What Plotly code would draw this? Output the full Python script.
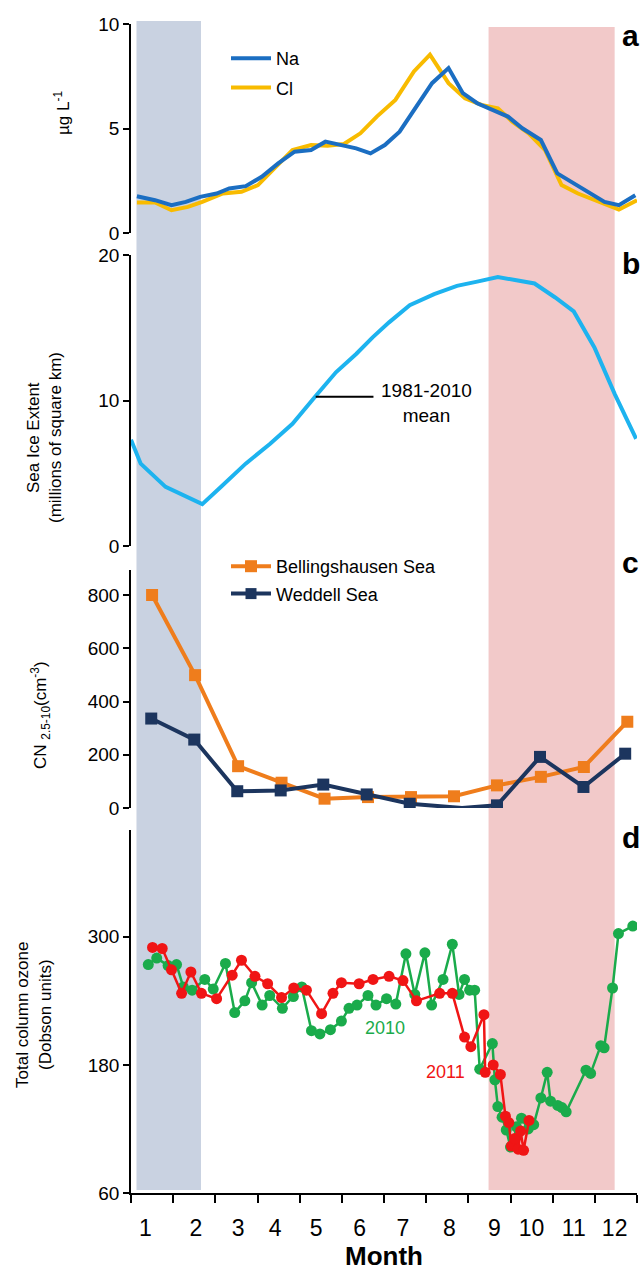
import plotly.graph_objects as go

# ---------------- data ----------------
# x positions are expressed on the month axis (0..12 tick intervals)
month_labels = ["1", "2", "3", "4", "5", "6", "7", "8", "9", "10", "11", "12"]
month_label_pos = [0.34, 1.54, 2.54, 3.42, 4.39, 5.42, 6.45, 7.55, 8.62, 9.50, 10.50, 11.47]
month_ticks = list(range(13))

# (a) aerosol Na / Cl, ug per litre
na_x = [0.14, 0.57, 0.96, 1.30, 1.64, 2.03, 2.33, 2.72, 3.10, 3.49, 3.88, 4.27, 4.61, 5.00,
        5.34, 5.68, 6.02, 6.37, 6.71, 7.14, 7.53, 7.87, 8.21, 8.55, 8.94, 9.28, 9.72, 10.11,
        10.50, 10.89, 11.23, 11.57, 11.96]
na_y = [1.76, 1.57, 1.33, 1.49, 1.73, 1.89, 2.13, 2.24, 2.69, 3.33, 3.89, 3.97, 4.37, 4.21,
        4.05, 3.81, 4.21, 4.85, 5.89, 7.17, 7.89, 6.69, 6.21, 5.89, 5.57, 5.01, 4.45, 2.85,
        2.37, 1.89, 1.49, 1.33, 1.81]
cl_x = [0.14, 0.57, 0.96, 1.35, 1.69, 2.18, 2.62, 3.01, 3.40, 3.83, 4.27, 4.66, 5.05, 5.44,
        5.83, 6.27, 6.71, 7.09, 7.53, 7.92, 8.31, 8.70, 9.04, 9.43, 9.82, 10.21, 10.60, 10.99,
        11.28, 11.57, 12.0]
cl_y = [1.46, 1.46, 1.09, 1.25, 1.49, 1.89, 1.97, 2.29, 3.09, 3.97, 4.21, 4.18, 4.26, 4.77,
        5.57, 6.37, 7.73, 8.53, 7.17, 6.45, 6.13, 5.97, 5.33, 4.77, 3.97, 2.29, 1.89, 1.57,
        1.33, 1.12, 1.57]

# (b) sea ice extent, 1981-2010 mean (millions of km2)
ice_x = [0.0, 0.23, 0.82, 1.26, 1.69, 2.13, 2.72, 3.30, 3.83, 4.37, 4.86, 5.34, 5.73, 6.12,
         6.61, 7.19, 7.73, 8.21, 8.70, 9.14, 9.57, 10.06, 10.50, 10.99, 11.47, 11.98]
ice_y = [7.3, 5.66, 4.06, 3.49, 2.88, 4.06, 5.66, 7.03, 8.40, 10.27, 11.94, 13.20, 14.34, 15.37,
         16.55, 17.31, 17.88, 18.17, 18.49, 18.26, 18.04, 17.08, 16.12, 13.65, 10.46, 7.37]

# (c) CN 2.5-10 concentrations (cm-3)
bell_x = [0.50, 1.52, 2.54, 3.57, 4.59, 5.62, 6.64, 7.66, 8.68, 9.72, 10.74, 11.77]
bell_y = [800, 499, 157, 95, 35, 41, 41, 44, 85, 117, 154, 324]
wed_x = [0.48, 1.50, 2.52, 3.55, 4.56, 5.59, 6.61, 7.85, 8.68, 9.70, 10.73, 11.72]
wed_y = [336, 257, 63, 66, 88, 51, 16, 0, 10, 192, 79, 204]
wed_has_marker = [1, 1, 1, 1, 1, 1, 1, 0, 1, 1, 1, 1]

# (d) total column ozone (Dobson units)
o3_2010_x = [0.41, 0.61, 0.88, 1.08, 1.24, 1.45, 1.75, 1.95, 2.24, 2.46, 2.70, 2.86, 3.11, 3.29,
             3.59, 3.85, 4.05, 4.28, 4.48, 4.73, 4.99, 5.17, 5.36, 5.62, 5.81, 6.06, 6.28, 6.52,
             6.73, 6.97, 7.13, 7.40, 7.62, 7.78, 7.91, 8.03, 8.15, 8.27, 8.57, 8.63, 8.70, 8.80,
             8.90, 9.00, 9.08, 9.14, 9.26, 9.42, 9.55, 9.72, 9.87, 9.95, 10.12, 10.22, 10.32,
             10.79, 10.90, 11.14, 11.22, 11.42, 11.56, 11.90]
o3_2010_y = [274, 280, 273, 274, 253, 250, 260, 251, 275, 229, 240, 257, 236, 245,
             233, 244, 253, 212, 209, 213, 221, 233, 236, 245, 236, 242, 237, 284,
             246, 285, 236, 260, 293, 246, 260, 250, 250, 176, 200, 166, 141, 131,
             119, 103, 110, 122, 130, 120, 124, 149, 173, 146, 142, 140, 136,
             175, 172, 198, 196, 252, 303, 310]
o3_2011_x = [0.51, 0.74, 0.96, 1.20, 1.42, 1.67, 2.03, 2.40, 2.62, 2.94, 3.24, 3.57, 3.86, 4.16,
             4.52, 4.79, 4.99, 5.41, 5.74, 6.12, 6.45, 6.77, 7.32, 7.62, 7.91, 8.06, 8.37, 8.40,
             8.59, 8.76, 8.88, 8.96, 9.02, 9.10, 9.18, 9.24, 9.31, 9.44]
o3_2011_y = [290, 289, 269, 247, 267, 247, 242, 264, 278, 263, 256, 243, 252, 250,
             228, 247, 257, 256, 260, 263, 259, 240, 247, 247, 206, 197, 227, 173,
             180, 171, 132, 126, 104, 111, 101, 118, 100, 128]

# seasonal bands on the month axis
band_blue = (0.13, 1.66)
band_pink = (8.48, 11.47)

# ---------------- styling ----------------
FONT = "Liberation Sans, Arial, sans-serif"
C_NA, C_CL = "#1b6ec2", "#f8bb00"
C_ICE = "#1db3ef"
C_BELL, C_WED = "#ef7d1c", "#1c355e"
C_2010, C_2011 = "#1aab4b", "#f01515"

fig = go.Figure()

fig.add_trace(go.Scatter(x=cl_x, y=cl_y, mode="lines", name="Cl", yaxis="y",
                         line=dict(color=C_CL, width=4), legend="legend", legendgroup="cl",
                         legendrank=2))
fig.add_trace(go.Scatter(x=na_x, y=na_y, mode="lines", name="Na", yaxis="y",
                         line=dict(color=C_NA, width=4), legend="legend", legendgroup="na",
                         legendrank=1))

fig.add_trace(go.Scatter(x=ice_x, y=ice_y, mode="lines", yaxis="y2", showlegend=False,
                         line=dict(color=C_ICE, width=4)))

fig.add_trace(go.Scatter(x=bell_x, y=bell_y, mode="lines+markers", name="Bellingshausen Sea",
                         yaxis="y3", line=dict(color=C_BELL, width=4),
                         marker=dict(symbol="square", size=12, color=C_BELL, opacity=1,
                                     line=dict(width=0)),
                         legend="legend2", legendgroup="bell", legendrank=1))
fig.add_trace(go.Scatter(x=wed_x, y=wed_y, mode="lines+markers", name="Weddell Sea",
                         yaxis="y3", line=dict(color=C_WED, width=4),
                         marker=dict(symbol="square", size=[12 * m for m in wed_has_marker],
                                     color=C_WED, opacity=1, line=dict(width=0)),
                         legend="legend2", legendgroup="wed", legendrank=2))

fig.add_trace(go.Scatter(x=o3_2010_x, y=o3_2010_y, mode="lines+markers", yaxis="y4",
                         showlegend=False, line=dict(color=C_2010, width=2.5),
                         marker=dict(size=11, color=C_2010)))
fig.add_trace(go.Scatter(x=o3_2011_x, y=o3_2011_y, mode="lines+markers", yaxis="y4",
                         showlegend=False, line=dict(color=C_2011, width=2.5),
                         marker=dict(size=11, color=C_2011)))

# plot area spans 131..637 px horizontally, 24..1193 px vertically
ML, MR, MT, MB = 131, 6, 24, 81
H = 1274
PH = H - MT - MB
PW = 643 - ML - MR


def py(px):
    """paper y for a pixel row"""
    return (H - MB - px) / PH


def pxx(px):
    """paper x for a pixel column"""
    return (px - ML) / PW


axis_common = dict(showline=True, linecolor="black", linewidth=1.5, ticks="outside",
                   ticklen=6, tickwidth=1.5, tickcolor="black", showgrid=False,
                   zeroline=False, anchor="x",
                   tickfont=dict(family=FONT, size=19, color="black"))

fig.update_layout(
    width=643, height=H,
    margin=dict(l=ML, r=MR, t=MT, b=MB),
    plot_bgcolor="white", paper_bgcolor="white",
    font=dict(family=FONT, color="black"),
    xaxis=dict(range=[0, 12], showline=True, linecolor="black", linewidth=1.5,
               showgrid=False, zeroline=False, anchor="y4",
               tickvals=month_label_pos, ticktext=month_labels, ticks="",
               ticklabelstandoff=14,
               tickfont=dict(family=FONT, size=23, color="black"),
               minor=dict(tickvals=month_ticks, ticks="outside", ticklen=8, tickwidth=1.5,
                          tickcolor="black", showgrid=False),
               title=dict(text="<b>Month</b>", font=dict(family=FONT, size=26, color="black"),
                          standoff=6)),
    yaxis=dict(domain=[py(233), py(24)], range=[0, 10], tickvals=[0, 5, 10], **axis_common),
    yaxis2=dict(domain=[py(546), py(255)], range=[0, 20], tickvals=[0, 10, 20], **axis_common),
    yaxis3=dict(domain=[py(808), py(570)], range=[0, 894], tickvals=[0, 200, 400, 600, 800],
                **axis_common),
    yaxis4=dict(domain=[0, py(830)], range=[60, 400], tickvals=[60, 180, 300], **axis_common),
    legend=dict(x=pxx(226), y=py(40), xanchor="left", yanchor="top", bgcolor="rgba(0,0,0,0)",
                font=dict(family=FONT, size=18, color="black"), tracegroupgap=3,
                traceorder="grouped", itemwidth=40),
    legend2=dict(x=pxx(226), y=py(548), xanchor="left", yanchor="top",
                 bgcolor="rgba(0,0,0,0)", font=dict(family=FONT, size=18, color="black"),
                 tracegroupgap=1, traceorder="grouped", itemwidth=40),
    showlegend=True,
)

# seasonal shading
fig.add_shape(type="rect", xref="x", yref="paper", x0=band_blue[0], x1=band_blue[1],
              y0=py(1190), y1=py(21), fillcolor="#c9d2e1", line_width=0, layer="below")
fig.add_shape(type="rect", xref="x", yref="paper", x0=band_pink[0], x1=band_pink[1],
              y0=py(1190), y1=py(27), fillcolor="#f2c9c9", line_width=0, layer="below")

# label for the mean sea-ice curve
fig.add_shape(type="line", xref="x", yref="y2", x0=4.38, x1=5.75, y0=10.25, y1=10.25,
              line=dict(color="black", width=2))
fig.add_annotation(x=7.0, y=9.8, xref="x", yref="y2", text="1981-2010<br>mean",
                   showarrow=False, font=dict(family=FONT, size=19, color="black"),
                   xanchor="center", yanchor="middle")

# year labels for ozone series
fig.add_annotation(x=6.03, y=215, xref="x", yref="y4", text="2010", showarrow=False,
                   font=dict(family=FONT, size=18, color=C_2010))
fig.add_annotation(x=7.97, y=173, xref="x", yref="y4", text="2011", showarrow=False,
                   xanchor="right", font=dict(family=FONT, size=18, color=C_2011))

# panel letters
for letter, ypix in [("a", 17), ("b", 245), ("c", 562), ("d", 856)]:
    fig.add_annotation(x=11.85, y=py(ypix), xref="x", yref="paper", text=f"<b>{letter}</b>",
                       showarrow=False, font=dict(family=FONT, size=30, color="black"))

# y-axis titles
ytitles = [
    ("µg L<sup>-1</sup>", 62, 113),
    ("Sea Ice Extent", 33, 438),
    ("(millions of square km)", 55, 438),
    ("CN <sub>2.5-10</sub>(cm<sup>-3</sup>)", 41, 715),
    ("Total column ozone", 22, 1015),
    ("(Dobson units)", 45, 1015),
]
for text, xpix, ypix in ytitles:
    fig.add_annotation(x=pxx(xpix), y=py(ypix), xref="paper", yref="paper", text=text,
                       textangle=-90, showarrow=False, xanchor="center", yanchor="middle",
                       font=dict(family=FONT, size=17, color="black"))

fig.write_html("out.html")
